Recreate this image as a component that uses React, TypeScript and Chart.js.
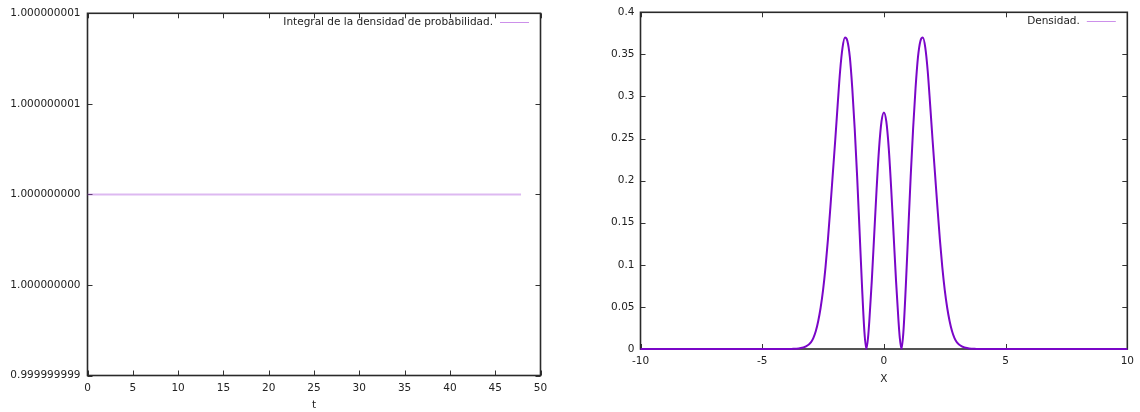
import React, { useEffect, useRef } from "react";
import { Chart, registerables } from "chart.js";

Chart.register(...registerables);

// ---------- Left chart data ----------
const leftTitle = "Integral de la densidad de probabilidad.";
const leftT = [0, 10, 20, 30, 40, 47.85];
const leftIntegral = [1, 1, 1, 1, 1, 1];
const leftXTicks = [0, 5, 10, 15, 20, 25, 30, 35, 40, 45, 50];
const leftYTicks = [0.999999999, 0.9999999995, 1.0, 1.0000000005, 1.000000001];
const leftYTickLabels = ["0.999999999", "1.000000000", "1.000000000", "1.000000001", "1.000000001"];

// ---------- Right chart data ----------
const rightTitle = "Densidad.";
const rightX = [
  -10, -4, -3.8, -3.5, -3.2, -3.0, -2.9, -2.8, -2.7, -2.6, -2.5, -2.4, -2.3, -2.2, -2.1, -2.0,
  -1.9, -1.8, -1.7, -1.6, -1.5, -1.4, -1.3, -1.2, -1.1, -1.0, -0.9, -0.8, -0.72, -0.65, -0.6,
  -0.5, -0.4, -0.3, -0.2, -0.1, 0, 0.1, 0.2, 0.3, 0.4, 0.5, 0.6, 0.65, 0.72, 0.8, 0.9, 1.0,
  1.1, 1.2, 1.3, 1.4, 1.5, 1.6, 1.7, 1.8, 1.9, 2.0, 2.1, 2.2, 2.3, 2.4, 2.5, 2.6, 2.7,
  2.8, 2.9, 3.0, 3.2, 3.5, 3.8, 4, 10,
];
const rightDensity = [
  0, 0, 0.0001, 0.0006, 0.003, 0.008, 0.013, 0.021, 0.033, 0.049, 0.07, 0.097, 0.13, 0.168, 0.208, 0.248,
  0.29, 0.33, 0.358, 0.37, 0.366, 0.347, 0.31, 0.262, 0.205, 0.14, 0.075, 0.02, 0, 0.014, 0.033,
  0.08, 0.135, 0.19, 0.238, 0.27, 0.281, 0.27, 0.238, 0.19, 0.135, 0.08, 0.033, 0.014, 0, 0.02, 0.075, 0.14,
  0.205, 0.262, 0.31, 0.347, 0.366, 0.37, 0.358, 0.33, 0.29, 0.248, 0.208, 0.168, 0.13, 0.097, 0.07, 0.049, 0.033,
  0.021, 0.013, 0.008, 0.003, 0.0006, 0.0001, 0, 0,
];
const rightXTicks = [-10, -5, 0, 5, 10];
const rightXTickLabels = ["-10", "-5", "0", "5", "10"];
const rightYTicks = [0, 0.05, 0.1, 0.15, 0.2, 0.25, 0.3, 0.35, 0.4];
const rightYTickLabels = ["0", "0.05", "0.1", "0.15", "0.2", "0.25", "0.3", "0.35", "0.4"];

const FONT = "'DejaVu Sans', 'Liberation Sans', sans-serif";
const FSIZE = 10.5;
const TEXT = "#222";
const AXIS = "#333";

const gnuBox = {
  id: "gnuBox",
  beforeDatasetsDraw(chart: any) {
    const { ctx, chartArea } = chart;
    const { left, right, top, bottom } = chartArea;
    const xs = chart.scales.x;
    const ys = chart.scales.y;
    ctx.save();
    ctx.strokeStyle = AXIS;
    ctx.lineWidth = 1;
    ctx.beginPath();
    const tl = 5;
    xs.ticks.forEach((t: any) => {
      const p = Math.round(xs.getPixelForValue(t.value)) + 0.5;
      ctx.moveTo(p, bottom);
      ctx.lineTo(p, bottom - tl);
      ctx.moveTo(p, top);
      ctx.lineTo(p, top + tl);
    });
    ys.ticks.forEach((t: any) => {
      const p = Math.round(ys.getPixelForValue(t.value)) + 0.5;
      ctx.moveTo(left, p);
      ctx.lineTo(left + tl, p);
      ctx.moveTo(right, p);
      ctx.lineTo(right - tl, p);
    });
    ctx.stroke();
    ctx.lineWidth = 1.6;
    ctx.strokeStyle = "#2a2a2a";
    ctx.strokeRect(left, top, right - left, bottom - top);
    ctx.restore();
  },
  afterDatasetsDraw(chart: any) {
    const { ctx, chartArea } = chart;
    const { right, top } = chartArea;
    const ds = chart.data.datasets[0];
    const lineEnd = right - 11.5;
    const lineStart = lineEnd - 29;
    const y = top + 9;
    ctx.save();
    ctx.font = `${FSIZE}px ${FONT}`;
    ctx.fillStyle = TEXT;
    ctx.textAlign = "right";
    ctx.textBaseline = "middle";
    ctx.fillText(ds.label, lineStart - 7, y);
    ctx.strokeStyle = "rgba(170,70,220,0.6)";
    ctx.lineWidth = 1;
    ctx.beginPath();
    ctx.moveTo(lineStart, Math.round(y) + 0.5);
    ctx.lineTo(lineEnd, Math.round(y) + 0.5);
    ctx.stroke();
    ctx.restore();
  },
};

function makeScale(opts: {
  min: number;
  max: number;
  ticks: number[];
  labels: string[];
  size: number;
  horizontal: boolean;
  padding: number;
  title?: string;
}) {
  const s: any = {
    type: "linear",
    min: opts.min,
    max: opts.max,
    grid: { display: false, drawTicks: false },
    border: { display: false },
    afterBuildTicks: (sc: any) => {
      sc.ticks = opts.ticks.map((v) => ({ value: v }));
    },
    afterFit: (sc: any) => {
      if (opts.horizontal) sc.height = opts.size;
      else sc.width = opts.size;
    },
    ticks: {
      autoSkip: false,
      maxRotation: 0,
      minRotation: 0,
      padding: opts.padding,
      color: TEXT,
      font: { family: FONT, size: FSIZE },
      callback: (_v: any, i: number) => opts.labels[i],
    },
  };
  if (opts.title) {
    s.title = {
      display: true,
      text: opts.title,
      color: TEXT,
      font: { family: FONT, size: FSIZE, lineHeight: 1.2 },
      padding: 0,
    };
  }
  return s;
}

function LeftChart() {
  const ref = useRef<HTMLCanvasElement>(null);
  useEffect(() => {
    const chart = new Chart(ref.current as HTMLCanvasElement, {
      type: "line",
      data: {
        datasets: [
          {
            label: leftTitle,
            data: leftT.map((t, i) => ({ x: t, y: leftIntegral[i] })),
            borderColor: "rgba(170,80,220,0.4)",
            borderWidth: 2,
            pointRadius: 0,
            clip: false as any,
          },
        ],
      },
      options: {
        responsive: false,
        animation: false,
        devicePixelRatio: 1,
        layout: { padding: { top: 12.5, right: 29.5, left: 0, bottom: 0 } },
        plugins: { legend: { display: false }, tooltip: { enabled: false } },
        scales: {
          x: makeScale({ min: 0, max: 50, ticks: leftXTicks, labels: leftXTicks.map(String), size: 36.5, horizontal: true, padding: 6, title: "t" }),
          y: makeScale({ min: 0.999999999, max: 1.000000001, ticks: leftYTicks, labels: leftYTickLabels, size: 87.5, horizontal: false, padding: 7 }),
        },
      } as any,
      plugins: [gnuBox],
    });
    return () => chart.destroy();
  }, []);
  return <canvas ref={ref} width={570} height={412} style={{ position: "absolute", left: 0, top: 0, width: 570, height: 412 }} />;
}

function RightChart() {
  const ref = useRef<HTMLCanvasElement>(null);
  useEffect(() => {
    const chart = new Chart(ref.current as HTMLCanvasElement, {
      type: "line",
      data: {
        datasets: [
          {
            label: rightTitle,
            data: rightX.map((x, i) => ({ x, y: rightDensity[i] })),
            borderColor: "#7a06c8",
            borderWidth: 2,
            pointRadius: 0,
            cubicInterpolationMode: "monotone",
            clip: false as any,
          },
        ],
      },
      options: {
        responsive: false,
        animation: false,
        devicePixelRatio: 1,
        layout: { padding: { top: 11.7, right: 10.5, left: 0, bottom: 26.7 } },
        plugins: { legend: { display: false }, tooltip: { enabled: false } },
        scales: {
          x: makeScale({ min: -10, max: 10, ticks: rightXTicks, labels: rightXTickLabels, size: 36.3, horizontal: true, padding: 6, title: "X" }),
          y: makeScale({ min: 0, max: 0.4, ticks: rightYTicks, labels: rightYTickLabels, size: 70.5, horizontal: false, padding: 6 }),
        },
      } as any,
      plugins: [gnuBox],
    });
    return () => chart.destroy();
  }, []);
  return <canvas ref={ref} width={570} height={412} style={{ position: "absolute", left: 570, top: 0, width: 570, height: 412 }} />;
}

export default function App() {
  return (
    <div style={{ position: "fixed", left: 0, top: 0, width: 1140, height: 412, background: "#fff", overflow: "hidden" }}>
      <LeftChart />
      <RightChart />
    </div>
  );
}
